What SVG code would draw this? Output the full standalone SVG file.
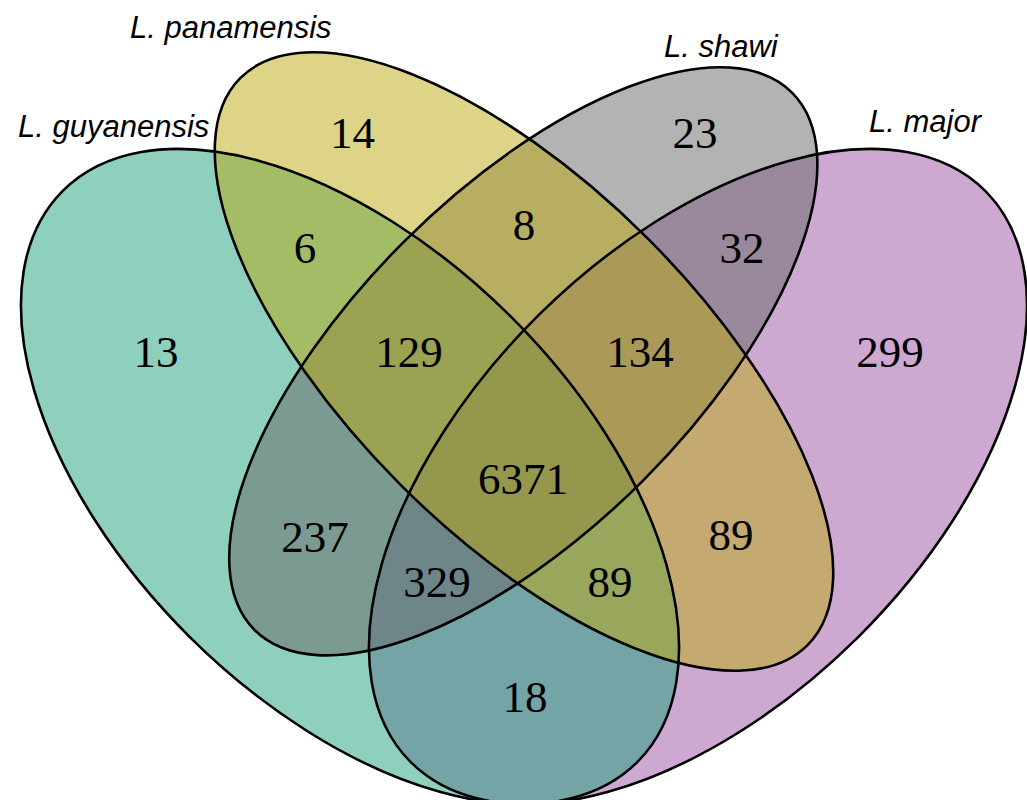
<svg xmlns="http://www.w3.org/2000/svg" width="1027" height="800" viewBox="0 0 1027 800">
  <style>
    .fill { stroke: none; fill-opacity: 0.5; }
    .outline { fill: none; stroke: #000; stroke-width: 2.6; }
    .count { font-family: "Liberation Serif", "Times New Roman", serif; font-size: 45px; fill: #000; text-anchor: middle; }
    .label { font-family: "Liberation Sans", Arial, sans-serif; font-size: 31px; font-style: italic; fill: #000; }
  </style>
  <rect width="1027" height="800" fill="#fff"/>
  <g id="set-major">
    <ellipse class="fill" fill="#9B53A3" cx="698" cy="476.5" rx="405.1" ry="226.8" transform="rotate(-44.75 698 476.5)"/>
    <text class="label" x="869" y="132">L. major</text>
  </g>
  <g id="set-guyanensis">
    <ellipse class="fill" fill="#1D9F7B" cx="350" cy="476.5" rx="405.1" ry="226.8" transform="rotate(44.75 350 476.5)"/>
    <text class="label" x="18" y="137">L. guyanensis</text>
  </g>
  <g id="set-shawi">
    <ellipse class="fill" fill="#676767" cx="523.3" cy="361.3" rx="380" ry="169" transform="rotate(-45 523.3 361.3)"/>
    <text class="label" x="664" y="57">L. shawi</text>
  </g>
  <g id="set-panamensis">
    <ellipse class="fill" fill="#BBA911" cx="524" cy="361.5" rx="401" ry="174.5" transform="rotate(45 524 361.5)"/>
    <text class="label" x="130" y="38">L. panamensis</text>
  </g>
  <g id="outlines">
    <ellipse class="outline" cx="698" cy="476.5" rx="405.1" ry="226.8" transform="rotate(-44.75 698 476.5)"/>
    <ellipse class="outline" cx="350" cy="476.5" rx="405.1" ry="226.8" transform="rotate(44.75 350 476.5)"/>
    <ellipse class="outline" cx="523.3" cy="361.3" rx="380" ry="169" transform="rotate(-45 523.3 361.3)"/>
    <ellipse class="outline" cx="524" cy="361.5" rx="401" ry="174.5" transform="rotate(45 524 361.5)"/>
  </g>
  <g id="counts">
    <text class="count" x="352.5" y="148">14</text>
    <text class="count" x="695" y="148">23</text>
    <text class="count" x="305" y="263">6</text>
    <text class="count" x="524" y="240">8</text>
    <text class="count" x="742" y="263">32</text>
    <text class="count" x="156" y="367">13</text>
    <text class="count" x="409" y="367">129</text>
    <text class="count" x="640" y="367">134</text>
    <text class="count" x="890" y="367">299</text>
    <text class="count" x="523" y="494">6371</text>
    <text class="count" x="315" y="552">237</text>
    <text class="count" x="731" y="550">89</text>
    <text class="count" x="437" y="597">329</text>
    <text class="count" x="610" y="597">89</text>
    <text class="count" x="525" y="712">18</text>
  </g>
</svg>
